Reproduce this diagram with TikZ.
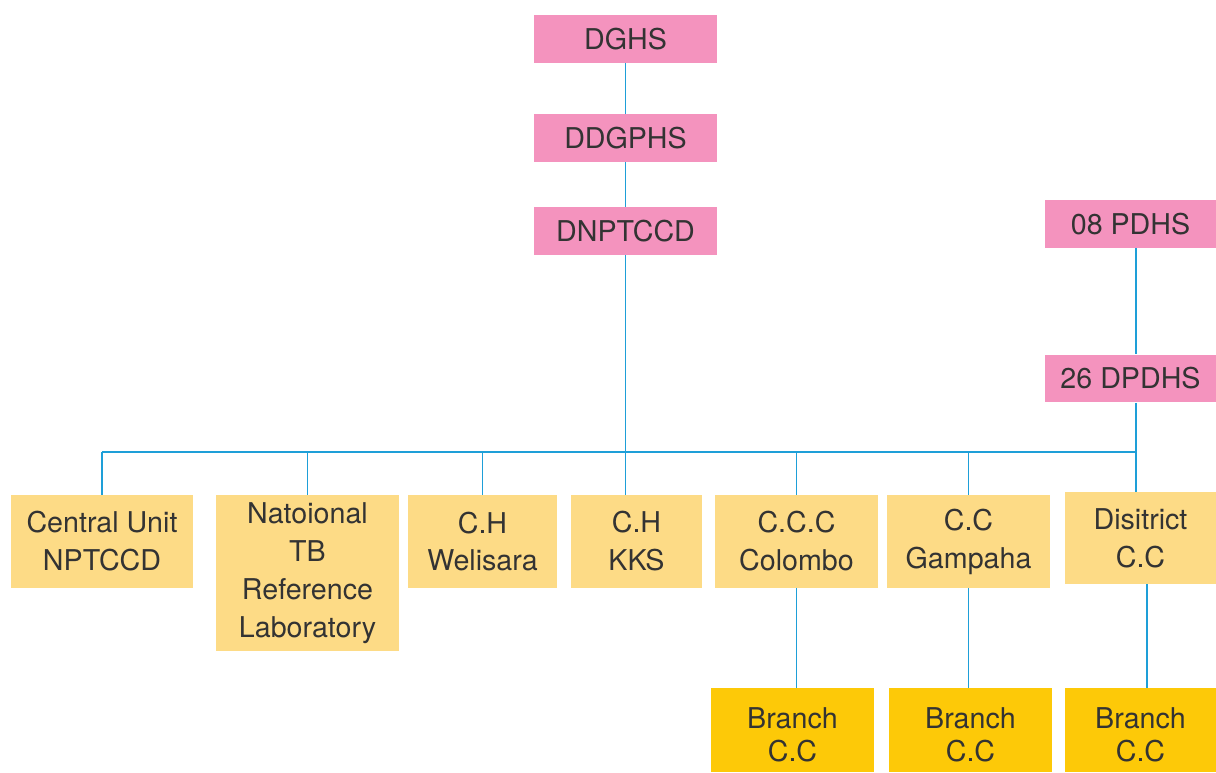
\documentclass[tikz,border=0pt]{standalone}
\usepackage{fontspec}
\setmainfont{TeX Gyre Heros}
\usepackage{tikz}
\definecolor{headpink}{HTML}{F493BE}
\definecolor{unityellow}{HTML}{FDDB86}
\definecolor{branchyellow}{HTML}{FDC908}
\definecolor{linkblue}{HTML}{1E9FD8}
\definecolor{labelgray}{HTML}{333333}
\newcommand{\boxfont}{\fontsize{16.3}{21.6}\selectfont}
\newcommand{\branchfont}{\fontsize{16.3}{18.8}\selectfont}
\newcommand{\branchlabel}{\rule{0pt}{17pt}Branch\\C.C}

\begin{document}
\begin{tikzpicture}[x=0.02cm, y=-0.02cm,
    office/.style={fill=headpink, inner sep=0pt, minimum height=0.96cm, text=labelgray, font=\boxfont},
    unit/.style={fill=unityellow, inner sep=0pt, minimum height=1.86cm, align=center, text=labelgray, font=\boxfont},
    branch/.style={fill=branchyellow, inner sep=0pt, minimum height=1.68cm, align=center, text=labelgray, font=\branchfont},
    link/.style={draw=linkblue, line width=0.8pt}]
    \useasboundingbox (0,0) rectangle (1216,773);
    \node[office, minimum width=3.66cm] (dghs) at (625.5,39) {DGHS};
    \node[office, minimum width=3.66cm] (ddgphs) at (625.5,138) {DDGPHS};
    \node[office, minimum width=3.66cm] (dnptccd) at (625.5,231) {DNPTCCD};
    \node[office, minimum width=3.42cm] (pdhs) at (1130.5,224) {08 PDHS};
    \node[office, minimum width=3.42cm] (dpdhs) at (1130.5,378.5) {26 DPDHS};
    \node[unit, minimum width=3.64cm] (cu) at (102,541.5) {Central Unit\\NPTCCD};
    \node[unit, minimum width=3.66cm, minimum height=3.12cm] (ntrl) at (307.5,573) {Natoional\\TB\\Reference\\Laboratory};
    \node[unit, minimum width=2.98cm] (chw) at (482.5,541.5) {C.H\\Welisara};
    \node[unit, minimum width=2.62cm] (chk) at (636.5,541.5) {C.H\\KKS};
    \node[unit, minimum width=3.26cm] (ccc) at (796.5,541.5) {C.C.C\\Colombo};
    \node[unit, minimum width=3.26cm] (ccg) at (968.5,541.5) {C.C\\Gampaha};
    \node[unit, minimum width=3.02cm, minimum height=1.84cm] (dcc) at (1140.5,538) {Disitrict\\C.C};
    \node[branch, minimum width=3.26cm] (bra) at (792.5,730) {\branchlabel};
    \node[branch, minimum width=3.26cm] (brb) at (970.5,730) {\branchlabel};
    \node[branch, minimum width=3.02cm] (brc) at (1140.5,730) {\branchlabel};
    \coordinate (busl) at (102,452);
    \coordinate (busr) at (1136,452);
    \draw[link] (dghs) -- (ddgphs);
    \draw[link] (ddgphs) -- (dnptccd);
    \draw[link] (dnptccd.south) -- (dnptccd.south |- chk.north);
    \draw[link] (busr |- pdhs.south) -- (busr |- dpdhs.north);
    \draw[link] (busr |- dpdhs.south) -- (busr |- dcc.north);
    \draw[link] (busl) -- (busr);
    \draw[link] (cu.north) -- (cu.north |- busl);
    \draw[link] (ntrl.north) -- (ntrl.north |- busl);
    \draw[link] (chw.north) -- (chw.north |- busl);
    \draw[link] (ccc.north) -- (ccc.north |- busl);
    \draw[link] (ccg.north) -- (ccg.north |- busl);
    \draw[link] (ccc.south) -- (ccc.south |- bra.north);
    \draw[link] (ccg.south) -- (ccg.south |- brb.north);
    \draw[link] ([xshift=0.13cm]dcc.south) -- ([xshift=0.13cm]dcc.south |- brc.north);
  \end{tikzpicture}
\end{document}
